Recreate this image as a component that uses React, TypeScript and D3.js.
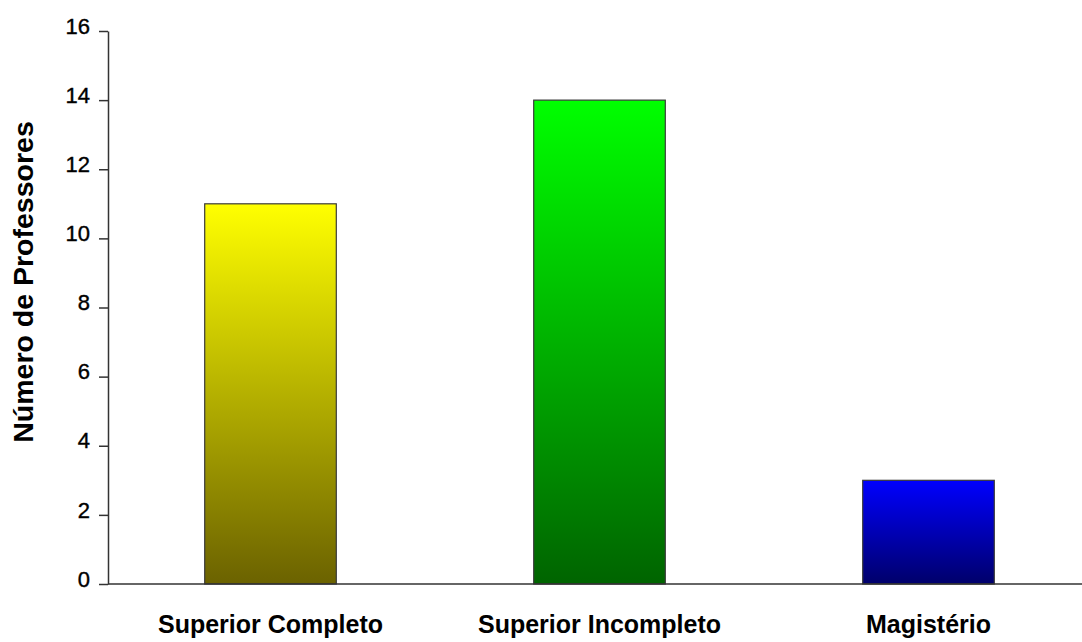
import React, { useRef, useEffect } from 'react';
import * as d3 from 'd3';

const categories = ['Superior Completo', 'Superior Incompleto', 'Magistério'];
const values = [11, 14, 3];
const yTicks = [0, 2, 4, 6, 8, 10, 12, 14, 16];
const topColors = ['#ffff00', '#00ff00', '#0000ff'];
const bottomColors = ['#6b6200', '#006400', '#00006a'];

const BarChart = ({ width, height }) => {
  const ref = useRef(null);

  useEffect(() => {
    const svg = d3.select(ref.current)
      .attr('width', width)
      .attr('height', height)
      .style('background-color', '#ffffff');

    svg.selectAll('*').remove();

    const left = 108;
    const top = 31;
    const bottom = 584;

    const xScale = d3.scaleBand()
      .range([106, 1093])
      .domain(categories)
      .paddingInner(0.6)
      .paddingOuter(0.3);

    const yScale = d3.scaleLinear()
      .range([bottom, top])
      .domain([0, 16]);

    const defs = svg.append('defs');
    categories.forEach((c, i) => {
      const g = defs.append('linearGradient')
        .attr('id', `grad${i}`)
        .attr('x1', 0).attr('y1', 0).attr('x2', 0).attr('y2', 1);
      g.append('stop').attr('offset', '0%').attr('stop-color', topColors[i]);
      g.append('stop').attr('offset', '100%').attr('stop-color', bottomColors[i]);
    });

    // bars
    svg.append('g')
      .selectAll('rect')
      .data(values)
      .enter()
      .append('rect')
      .attr('x', (d, i) => xScale(categories[i]))
      .attr('width', xScale.bandwidth())
      .attr('y', (d) => yScale(d))
      .attr('height', (d) => bottom - yScale(d))
      .attr('fill', (d, i) => `url(#grad${i})`)
      .attr('stroke', '#3a3a3a')
      .attr('stroke-width', 1.2);

    // y axis
    const yAxis = svg.append('g')
      .attr('transform', `translate(${left}, 0)`)
      .call(d3.axisLeft(yScale).tickValues(yTicks).tickSize(9).tickPadding(9).tickSizeOuter(0));
    yAxis.select('.domain').attr('stroke', '#333').attr('stroke-width', 1.5);
    yAxis.selectAll('.tick line').attr('stroke', '#333').attr('stroke-width', 1.5);
    yAxis.selectAll('.tick text')
      .style('font-family', 'Arial, "Liberation Sans", sans-serif')
      .style('font-size', '22px')
      .attr('fill', '#000')
      .attr('stroke', '#000')
      .attr('stroke-width', 0.4)
      .attr('dy', '0.1em');

    // x axis line
    svg.append('line')
      .attr('x1', left)
      .attr('x2', width)
      .attr('y1', bottom)
      .attr('y2', bottom)
      .attr('stroke', '#333')
      .attr('stroke-width', 1.5);

    // category labels
    svg.append('g')
      .selectAll('text')
      .data(categories)
      .enter()
      .append('text')
      .attr('x', (d) => xScale(d) + xScale.bandwidth() / 2)
      .attr('y', 633)
      .attr('text-anchor', 'middle')
      .attr('font-family', 'Arial, "Liberation Sans", sans-serif')
      .attr('font-weight', 'bold')
      .attr('font-size', 25)
      .attr('fill', '#000')
      .text((d) => d);

    // y title
    svg.append('text')
      .attr('transform', 'translate(33, 282) rotate(-90)')
      .attr('text-anchor', 'middle')
      .attr('font-family', 'Arial, "Liberation Sans", sans-serif')
      .attr('font-weight', 'bold')
      .attr('font-size', 28.5)
      .attr('fill', '#000')
      .text('Número de Professores');
  }, [width, height]);

  return <svg ref={ref} style={{ display: 'block' }}></svg>;
};

export default function App() {
  return (
    <div style={{ position: 'absolute', left: 0, top: 0 }}>
      <BarChart width={1082} height={642} />
    </div>
  );
}
